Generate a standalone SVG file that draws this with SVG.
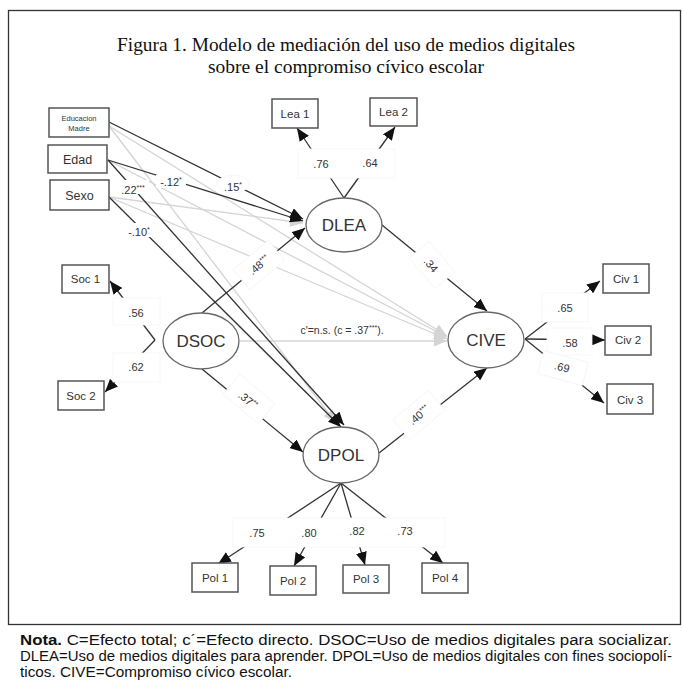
<svg xmlns="http://www.w3.org/2000/svg" width="682" height="686" viewBox="0 0 682 686">
<defs>
<marker id="ah" viewBox="0 0 13 11" refX="13" refY="5.5" markerWidth="13" markerHeight="11" markerUnits="userSpaceOnUse" orient="auto"><path d="M0,0 L13,5.5 L0,11 z" fill="#111"/></marker>
<marker id="ahg" viewBox="0 0 13 11" refX="13" refY="5.5" markerWidth="13" markerHeight="11" markerUnits="userSpaceOnUse" orient="auto"><path d="M0,0 L13,5.5 L0,11 z" fill="#d4d4d4"/></marker>
</defs>
<style>
.box{fill:#fff;stroke:#555;stroke-width:1.5}
.ell{fill:#fff;stroke:#666;stroke-width:1.3}
.bt{font-family:"Liberation Sans",Arial,sans-serif;font-size:11.5px;fill:#333;text-anchor:middle}
.bt-s{font-size:7.5px}
.bt-l{font-size:12.5px}
.et{font-family:"Liberation Sans",Arial,sans-serif;font-size:17px;fill:#333;text-anchor:middle}
.lb{font-family:"Liberation Sans",Arial,sans-serif;font-size:11px;fill:#333;text-anchor:middle}
.lb-s{font-size:10.5px}
.sup{font-size:7px}
.dk{stroke:#333;stroke-width:1.3;fill:none}
.gr{stroke:#d4d4d4;stroke-width:1.3;fill:none}
.lbg{fill:#fff;stroke:#f4f4f4;stroke-width:0.8}
.title{font-family:"Liberation Serif","Times New Roman",serif;font-size:19px;fill:#111;text-anchor:middle}
.nota{font-family:"Liberation Sans",Arial,sans-serif;font-size:14px;fill:#111}
</style>
<rect x="0" y="0" width="682" height="686" fill="#fff"/>
<rect x="8.5" y="10.5" width="672" height="614" fill="none" stroke="#333" stroke-width="1.3"/>
<text class="title" x="346" y="51" textLength="458" lengthAdjust="spacingAndGlyphs">Figura 1. Modelo de mediación del uso de medios digitales</text>
<text class="title" x="346" y="73" textLength="276" lengthAdjust="spacingAndGlyphs">sobre el compromiso cívico escolar</text>

<g id="connectors">
<path class="gr" d="M109,126 L336,423" marker-end="url(#ahg)"/>
<path class="gr" d="M109,126 L447,336" marker-end="url(#ahg)"/>
<path class="gr" d="M108,160 L447,337" marker-end="url(#ahg)"/>
<path class="gr" d="M109,197 L303,223" marker-end="url(#ahg)"/>
<path class="gr" d="M109,197 L447,339" marker-end="url(#ahg)"/>
<path class="gr" d="M240,341 L447,341" marker-end="url(#ahg)"/>
<path class="dk" d="M109,122 L303,219" marker-end="url(#ah)"/>
<path class="dk" d="M108,160 L303,221" marker-end="url(#ah)"/>
<path class="dk" d="M108,160 L344,425" marker-end="url(#ah)"/>
<path class="dk" d="M109,197 L341,427" marker-end="url(#ah)"/>
<path class="dk" d="M202,313 L305,228" marker-end="url(#ah)"/>
<path class="dk" d="M382,225 L487,311" marker-end="url(#ah)"/>
<path class="dk" d="M202,369 L303,452" marker-end="url(#ah)"/>
<path class="dk" d="M379,453 L487,368" marker-end="url(#ah)"/>
<path class="dk" d="M344,198 L297,128" marker-end="url(#ah)"/>
<path class="dk" d="M344,198 L395,127" marker-end="url(#ah)"/>
<path class="dk" d="M155,340 L110,281" marker-end="url(#ah)"/>
<path class="dk" d="M155,340 L105,392" marker-end="url(#ah)"/>
<path class="dk" d="M525,339 L600,281" marker-end="url(#ah)"/>
<path class="dk" d="M525,339 L605,340" marker-end="url(#ah)"/>
<path class="dk" d="M525,339 L604,403" marker-end="url(#ah)"/>
<path class="dk" d="M341,483 L218,564" marker-end="url(#ah)"/>
<path class="dk" d="M341,483 L294,566" marker-end="url(#ah)"/>
<path class="dk" d="M341,483 L365,565" marker-end="url(#ah)"/>
<path class="dk" d="M341,483 L443,563" marker-end="url(#ah)"/>
<ellipse class="lbg" cx="233" cy="184" rx="16" ry="9"/>
<rect fill="#fff" x="156" y="175" width="30" height="13"/>
<rect fill="#fff" x="117" y="180" width="32" height="14"/>
<rect fill="#fff" x="124" y="223" width="30" height="14"/>
<rect class="lbg" x="298" y="149" width="97" height="29"/>
<rect class="lbg" x="113" y="298" width="47" height="27"/>
<rect class="lbg" x="113" y="353" width="47" height="29"/>
<rect class="lbg" x="236" y="252" width="46" height="26" transform="rotate(-40 259 265)"/>
<rect class="lbg" x="412" y="252" width="40" height="26" transform="rotate(50 432 265)"/>
<rect class="lbg" x="226" y="386" width="46" height="26" transform="rotate(40 249 399)"/>
<rect class="lbg" x="396" y="402" width="46" height="26" transform="rotate(-40 419 415)"/>
<rect class="lbg" x="542" y="293" width="46" height="29"/>
<rect class="lbg" x="547" y="328" width="45" height="27"/>
<rect class="lbg" x="540" y="356" width="46" height="24" transform="rotate(15 563 368)"/>
<rect class="lbg" x="233" y="518" width="212" height="29"/>
<text class="lb" x="233" y="191">.15<tspan class="sup" dy="-4">*</tspan></text>
<text class="lb" x="171" y="186">-.12<tspan class="sup" dy="-4">*</tspan></text>
<text class="lb" x="133" y="194">.22<tspan class="sup" dy="-4">***</tspan></text>
<text class="lb" x="139" y="236">-.10<tspan class="sup" dy="-4">*</tspan></text>
<text class="lb" x="321" y="168">.76</text>
<text class="lb" x="370" y="167">.64</text>
<text class="lb" x="136" y="317">.56</text>
<text class="lb" x="136" y="371">.62</text>
<text class="lb" x="259" y="269" transform="rotate(-40 259 265)">.48<tspan class="sup" dy="-4">***</tspan></text>
<text class="lb" x="431" y="269" transform="rotate(50 431 265)">.34</text>
<text class="lb" x="248" y="404" transform="rotate(40 248 400)">.37<tspan class="sup" dy="-4">**</tspan></text>
<text class="lb" x="419" y="419" transform="rotate(-40 419 415)">.40<tspan class="sup" dy="-4">***</tspan></text>
<text class="lb" x="565" y="312">.65</text>
<text class="lb" x="570" y="347">.58</text>
<text class="lb" x="562" y="371" transform="rotate(15 562 367)">.69</text>
<text class="lb" x="257" y="537">.75</text>
<text class="lb" x="309" y="537">.80</text>
<text class="lb" x="357" y="535">.82</text>
<text class="lb" x="405" y="535">.73</text>
<text class="lb lb-s" x="342" y="334">c'=n.s. (c = .37<tspan class="sup" dy="-4">***</tspan><tspan dy="4">).</tspan></text>
</g>

<g id="educacion-madre"><rect class="box" x="49" y="108" width="60" height="29"/><text class="bt bt-s" x="79" y="121">Educacion</text><text class="bt bt-s" x="79" y="131">Madre</text></g>
<g id="edad"><rect class="box" x="48" y="145" width="59" height="28"/><text class="bt bt-l" x="77.5" y="164">Edad</text></g>
<g id="sexo"><rect class="box" x="50" y="180" width="59" height="30"/><text class="bt bt-l" x="79.5" y="200">Sexo</text></g>
<g id="lea1"><rect class="box" x="272" y="99" width="46" height="29"/><text class="bt" x="295" y="118">Lea 1</text></g>
<g id="lea2"><rect class="box" x="370" y="98" width="47" height="28"/><text class="bt" x="393.5" y="116">Lea 2</text></g>
<g id="dlea"><ellipse class="ell" cx="344" cy="225" rx="38" ry="27"/><text class="et" x="344" y="231">DLEA</text></g>
<g id="soc1"><rect class="box" x="62" y="265" width="47" height="28"/><text class="bt" x="85.5" y="283">Soc 1</text></g>
<g id="soc2"><rect class="box" x="58" y="381" width="46" height="29"/><text class="bt" x="81" y="400">Soc 2</text></g>
<g id="dsoc"><ellipse class="ell" cx="201" cy="341" rx="38" ry="28"/><text class="et" x="201" y="347">DSOC</text></g>
<g id="cive"><ellipse class="ell" cx="486" cy="340" rx="38" ry="28"/><text class="et" x="486" y="346">CIVE</text></g>
<g id="civ1"><rect class="box" x="603" y="264" width="46" height="29"/><text class="bt" x="626" y="283">Civ 1</text></g>
<g id="civ2"><rect class="box" x="605" y="326" width="46" height="29"/><text class="bt" x="628" y="344">Civ 2</text></g>
<g id="civ3"><rect class="box" x="607" y="384" width="46" height="30"/><text class="bt" x="630" y="404">Civ 3</text></g>
<g id="dpol"><ellipse class="ell" cx="341" cy="455" rx="38" ry="28"/><text class="et" x="341" y="461">DPOL</text></g>
<g id="pol1"><rect class="box" x="192" y="563" width="46" height="29"/><text class="bt" x="215" y="582">Pol 1</text></g>
<g id="pol2"><rect class="box" x="270" y="566" width="46" height="29"/><text class="bt" x="293" y="585">Pol 2</text></g>
<g id="pol3"><rect class="box" x="343" y="565" width="46" height="28"/><text class="bt" x="366" y="583">Pol 3</text></g>
<g id="pol4"><rect class="box" x="422" y="563" width="46" height="30"/><text class="bt" x="445" y="582">Pol 4</text></g>

<text class="nota" x="20" y="645" textLength="652" lengthAdjust="spacingAndGlyphs"><tspan font-weight="bold">Nota.</tspan> C=Efecto total; c´=Efecto directo. DSOC=Uso de medios digitales para socializar.</text>
<text class="nota" x="20" y="661" textLength="652" lengthAdjust="spacingAndGlyphs">DLEA=Uso de medios digitales para aprender. DPOL=Uso de medios digitales con fines sociopolí-</text>
<text class="nota" x="20" y="677" textLength="272" lengthAdjust="spacingAndGlyphs">ticos. CIVE=Compromiso cívico escolar.</text>
</svg>
